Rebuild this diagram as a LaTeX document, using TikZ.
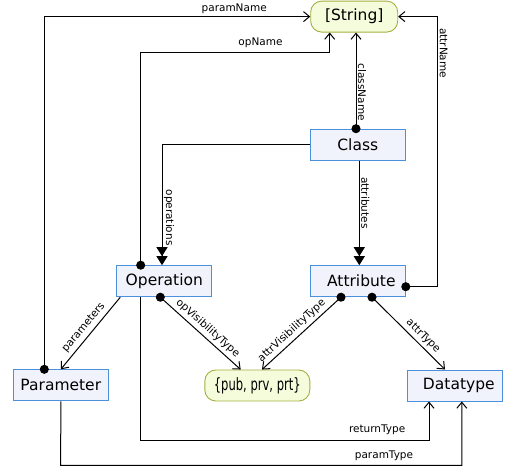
\documentclass[tikz,border=0pt]{standalone}
\usepackage{fontspec}
\setmainfont{DejaVu Sans}
\newfontfamily\narrowfont[FakeStretch=0.68]{DejaVu Sans}
\usetikzlibrary{arrows.meta, positioning}

\definecolor{boxline}{HTML}{4A90DC}
\definecolor{boxfill}{HTML}{F1F3FC}
\definecolor{valline}{HTML}{A6AE40}
\definecolor{valfill}{HTML}{F5FCDC}

\tikzset{
  classbox/.style={draw=boxline, fill=boxfill, line width=1pt, minimum width=95pt, minimum height=31pt, inner sep=0pt, font=\fontsize{15.5}{18}\selectfont},
  valuebox/.style={draw=valline, fill=valfill, line width=0.9pt, rounded corners=11pt, minimum height=31pt, inner sep=0pt, font=\fontsize{15.5}{18}\selectfont},
  lbl/.style={font=\fontsize{10.5}{12}\selectfont, inner sep=1.5pt},
  refarr/.style={line width=1pt, {Circle[length=9pt]}-{Straight Barb[length=6pt,width=10pt]}, shorten <=-4.5pt},
  openarr/.style={line width=1pt, -{Straight Barb[length=6pt,width=10pt]}},
  partarr/.style={line width=1pt, -{Triangle[length=9pt,width=11pt]Triangle[length=9pt,width=11pt]}}
}

\begin{document}
\begin{tikzpicture}[x=1pt, y=-1pt]
  \useasboundingbox (0,0) rectangle (505,470);

  \node[valuebox, minimum width=87pt] (string) at (354.2,16.6) {[String]};
  \node[classbox] (class) at (357.8,144.7) {Class};
  \node[classbox] (operation) at (164.3,281.2) {Operation};
  \node[classbox] (attribute) at (357.8,281.2) {\hspace{7pt}Attribute};
  \node[classbox] (parameter) at (60.8,385.3) {Parameter};
  \node[valuebox, minimum width=105pt, font=\narrowfont\fontsize{17}{20}\selectfont] (vis) at (257.3,385.5) {\{pub, prv, prt\}};
  \node[classbox] (datatype) at (454.8,385.5) {\hspace{8pt}Datatype};

  \coordinate (opbend) at (329.7,52.7);
  \coordinate (attrbend) at (437.7,16.6);
  \coordinate (retbend) at (140.7,440);
  \coordinate (ptbend) at (60.7,465.3);

  % names
  \draw[refarr] ([xshift=-16.5pt]parameter.north) |- (string.west)
    node[lbl, pos=0.857, above=1pt] {paramName};
  \draw[refarr] ([xshift=-23.6pt]operation.north) |- (opbend)
    node[lbl, pos=0.817, above=3pt] {opName} -- ([xshift=-24.5pt]string.south);
  \draw[refarr] ([xshift=-1.8pt]class.north) -- ([xshift=1.8pt]string.south)
    node[lbl, pos=0.42, rotate=-90, anchor=south, xshift=4pt] {className};
  \draw[refarr] ([yshift=-5.5pt]attribute.east) -| (attrbend)
    node[lbl, pos=0.94, rotate=-90, anchor=south, xshift=4pt] {attrName} -- (string.east);

  % containment
  \draw[partarr] (class.west) -| ([xshift=-2.3pt]operation.north)
    node[lbl, pos=0.79, rotate=-90, anchor=south, xshift=3pt] {operations};
  \draw[partarr] ([xshift=1.5pt]class.south) -- ([xshift=1.5pt]attribute.north)
    node[lbl, pos=0.38, rotate=-90, anchor=south, xshift=2.5pt] {attributes};

  % types
  \draw
    ([xshift=4pt]operation.south west) edge[openarr] node[lbl, sloped, above=2pt] {parameters} (parameter.north)
    ([xshift=-4pt]operation.south) edge[refarr] node[lbl, sloped, above=1.5pt, pos=0.52] {opVisibilityType} ([xshift=-16.6pt]vis.north)
    ([xshift=-16.8pt]attribute.south) edge[refarr] node[lbl, sloped, above=1.5pt, pos=0.55] {attrVisibilityType} ([xshift=4.7pt]vis.north)
    ([xshift=14.2pt]attribute.south) edge[refarr] node[lbl, sloped, above=1.5pt, pos=0.62] {attrType} ([xshift=-9.8pt]datatype.north);

  \draw[openarr] ([xshift=-23.6pt]operation.south) -- (retbend) -| ([xshift=-25.8pt]datatype.south)
    node[lbl, pos=0.41, above=3pt] {returnType};
  \draw[openarr] (parameter.south) -- (ptbend) -| ([xshift=7pt]datatype.south)
    node[lbl, pos=0.403, above=3pt] {paramType};
\end{tikzpicture}
\end{document}
